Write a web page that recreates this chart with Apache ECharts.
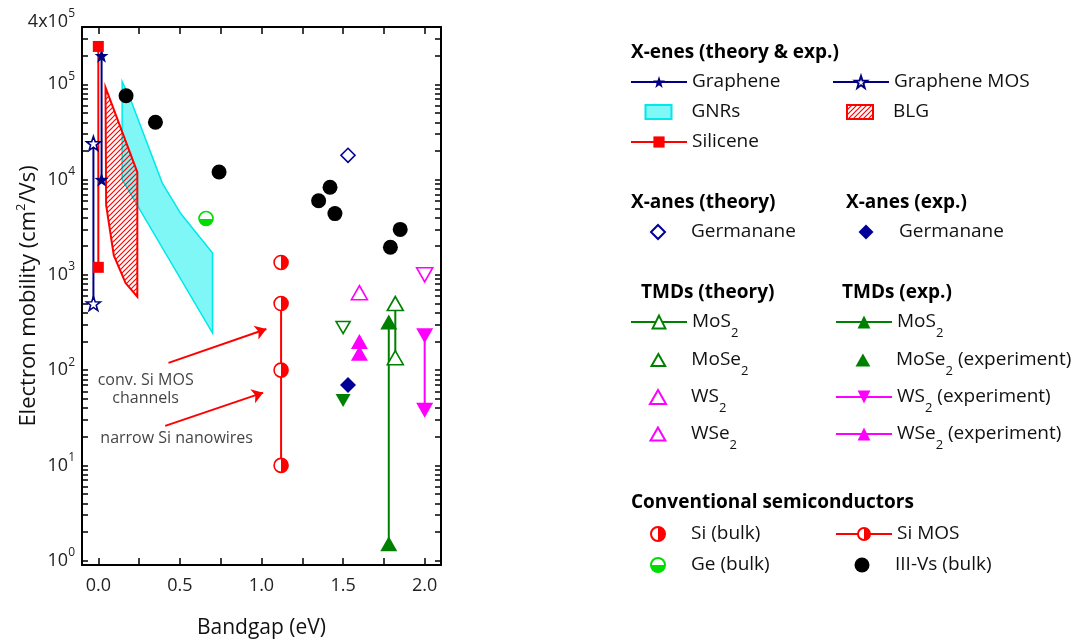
<!DOCTYPE html>
<html>
<head>
<meta charset="utf-8">
<script src="https://cdn.jsdelivr.net/npm/echarts@6.0.0/dist/echarts.min.js"></script>
<style>
html, body { margin: 0; padding: 0; background: #fff; }
#main { width: 1082px; height: 641px; }
</style>
</head>
<body>
<div id="main"></div>
<script>
// [bandgap (eV), electron mobility (cm2/Vs)]
const graphene = [[0.02, 2.0e5], [0.02, 1.0e4]];
const grapheneMOS = [[-0.03, 2.4e4], [-0.03, 500]];
const silicene = [[0.0, 2.5e5], [0.0, 1200]];
const gnrs = [[0.146, 1.07e5], [0.198, 6.9e4], [0.392, 9.2e3], [0.505, 4.4e3], [0.70, 1.7e3], [0.70, 245], [0.146, 1.0e4]];
const blg = [[0.044, 9.3e4], [0.048, 5.4e3], [0.095, 1.6e3], [0.167, 820], [0.239, 590], [0.239, 1.2e4]];
const germananeTheory = [[1.53, 1.8e4]];
const germananeExp = [[1.53, 70]];
const mos2Theory = [[1.82, 500], [1.82, 135]];
const mose2Theory = [[1.50, 280]];
const ws2Theory = [[2.0, 1000]];
const wse2Theory = [[1.60, 650]];
const mos2Exp = [[1.78, 320], [1.78, 1.5]];
const mose2Exp = [[1.50, 48]];
const ws2Exp = [[2.0, 230], [2.0, 38]];
const wse2Exp = [[1.60, 200], [1.60, 150]];
const siBulk = [[1.12, 1350]];
const siMOS = [[1.12, 500], [1.12, 100], [1.12, 10]];
const geBulk = [[0.66, 3900]];
const iiiVs = [[0.17, 7.6e4], [0.35, 4.0e4], [0.74, 1.2e4], [1.35, 6.0e3], [1.42, 8.3e3], [1.45, 4.4e3], [1.79, 1.95e3], [1.85, 3.0e3]];

// annotations
const arrows = [[[0.43, 119], [1.03, 270]], [[0.41, 26], [1.01, 58]]];
const notes = [[0.29, 62, 'conv. Si MOS\nchannels'], [0.48, 19, 'narrow Si nanowires']];

// axis ticks
const xTicks = [0, 0.5, 1.0, 1.5, 2.0];
const xMinorTicks = [0.25, 0.75, 1.25, 1.75];
const yTicks = [1, 10, 100, 1000, 1e4, 1e5];
const yLabels = [1, 10, 100, 1000, 1e4, 1e5, 4e5];
const yMinorTicks = [];
yTicks.forEach(d => { for (let k = 2; k <= 9; k++) if (k * d < 4e5) yMinorTicks.push(k * d); });

const font = '"Open Sans", sans-serif';
const star = 'path://M0,-1L0.235,-0.324L0.951,-0.309L0.38,0.124L0.588,0.809L0,0.4L-0.588,0.809L-0.38,0.124L-0.951,-0.309L-0.235,-0.324Z';
const tri = 'path://M1,0L2,1.75L0,1.75Z';
const diamond = 'path://M1,0L2,1L1,2L0,1Z';

// hatch for BLG
const hatch = document.createElement('canvas');
hatch.width = hatch.height = 5;
const hg = hatch.getContext('2d');
hg.strokeStyle = '#ff0000';
hg.lineWidth = 1.2;
hg.beginPath();
hg.moveTo(0, 5); hg.lineTo(5, 0);
hg.moveTo(-1, 1); hg.lineTo(1, -1);
hg.moveTo(4, 6); hg.lineTo(6, 4);
hg.stroke();

function half(c, dir) { // half filled circle (white / colour)
  const g = dir === 'x' ? [0, 0, 1, 0] : [0, 0, 0, 1];
  return new echarts.graphic.LinearGradient(g[0], g[1], g[2], g[3], [
    { offset: 0, color: '#fff' }, { offset: 0.5, color: '#fff' },
    { offset: 0.5, color: c }, { offset: 1, color: c }
  ]);
}

function lineS(name, data, color, symbol, size, fill, rotate) {
  return {
    name, type: 'line', data, z: 3, symbol, symbolSize: size, symbolRotate: rotate || 0,
    showSymbol: true, symbolKeepAspect: false,
    lineStyle: { color, width: 2 },
    itemStyle: { color: fill || color, borderColor: color, borderWidth: fill ? 1.6 : 0 }
  };
}
function scatterS(name, data, color, symbol, size, fill, rotate) {
  return {
    name, type: 'scatter', data, z: 3, symbol, symbolSize: size, symbolRotate: rotate || 0,
    itemStyle: { color: fill || color, borderColor: color, borderWidth: fill ? 1.6 : 0, opacity: 1 }
  };
}
function polygonS(name, pts, fill, stroke, width) {
  return {
    name, type: 'custom', data: pts, z: 1, silent: true,
    itemStyle: { color: fill, borderColor: stroke, borderWidth: width },
    renderItem: (params, api) => {
      if (params.dataIndex !== 0) return null;
      return {
        type: 'polygon',
        shape: { points: pts.map(p => api.coord(p)) },
        style: { fill, stroke, lineWidth: width }
      };
    }
  };
}

const series = [
  polygonS('GNRs', gnrs, 'rgba(0,240,240,0.5)', '#00e8e8', 1.5),
  polygonS('BLG', blg, { image: hatch, repeat: 'repeat' }, '#ff0000', 2),
  lineS('Graphene', graphene, '#000080', star, 14),
  lineS('Graphene MOS', grapheneMOS, '#000080', star, 14, '#fff'),
  lineS('Silicene', silicene, '#ff0000', 'rect', 11),
  scatterS('Germanane (theory)', germananeTheory, '#000099', diamond, 14, '#fff'),
  scatterS('Germanane (exp.)', germananeExp, '#000099', diamond, 16),
  lineS('MoS2 (theory)', mos2Theory, '#008000', tri, [16, 14], '#fff'),
  scatterS('MoSe2 (theory)', mose2Theory, '#008000', tri, [14, 12], '#fff', 180),
  scatterS('WS2 (theory)', ws2Theory, '#ff00ff', tri, [16, 14], '#fff', 180),
  scatterS('WSe2 (theory)', wse2Theory, '#ff00ff', tri, [16, 14], '#fff'),
  lineS('MoS2 (exp.)', mos2Exp, '#008000', tri, [17, 15]),
  scatterS('MoSe2 (experiment)', mose2Exp, '#008000', tri, [15, 13], null, 180),
  lineS('WS2 (experiment)', ws2Exp, '#ff00ff', tri, [17, 15], null, 180),
  lineS('WSe2 (experiment)', wse2Exp, '#ff00ff', tri, [17, 15]),
  scatterS('Si (bulk)', siBulk, '#ff0000', 'circle', 14, half('#ff0000', 'x')),
  lineS('Si MOS', siMOS, '#ff0000', 'circle', 14, half('#ff0000', 'x')),
  scatterS('Ge (bulk)', geBulk, '#00dd00', 'circle', 14, half('#00dd00', 'y')),
  scatterS('III-Vs (bulk)', iiiVs, '#000', 'circle', 15),
  {
    name: 'notes', type: 'scatter', data: notes, symbolSize: 0, z: 4, silent: true,
    label: {
      show: true, position: 'inside', formatter: p => p.value[2],
      fontSize: 16, lineHeight: 18, color: '#111', fontFamily: font
    },
    markLine: {
      silent: true, animation: false, symbol: ['none', 'arrow'], symbolSize: 11,
      lineStyle: { color: '#ff0000', width: 2, type: 'solid' },
      label: { show: false },
      data: arrows.map(a => [{ coord: a[0] }, { coord: a[1] }])
    }
  }
];

// legend placement: [series name, left of 56px icon slot, row centre y, icon height, drawn icon width (0 = full slot)]
const legendLayout = [
  ['Graphene', 630, 82, 15, 0], ['Graphene MOS', 832, 82, 15, 0],
  ['GNRs', 630, 112, 14, 27], ['BLG', 832, 112, 14, 28],
  ['Silicene', 630, 142, 14, 0],
  ['Germanane (theory)', 630, 232, 14, 16], ['Germanane (exp.)', 838, 232, 15, 15],
  ['MoS2 (theory)', 630, 322, 16, 0], ['MoS2 (exp.)', 835, 322, 16, 0],
  ['MoSe2 (theory)', 630, 360, 12, 15], ['MoSe2 (experiment)', 835, 360, 13, 15],
  ['WS2 (theory)', 630, 397, 14, 18], ['WS2 (experiment)', 835, 397, 16, 0],
  ['WSe2 (theory)', 630, 434, 13, 17], ['WSe2 (experiment)', 835, 434, 16, 0],
  ['Si (bulk)', 630, 534, 14, 16], ['Si MOS', 835, 534, 15, 0],
  ['Ge (bulk)', 630, 565, 14, 16], ['III-Vs (bulk)', 834, 565, 15, 15]
];
const boxIcon = 'path://M0,0h13v7h-13z';
const legend = legendLayout.map(([name, x, y, h, w]) => ({
  data: [name === 'GNRs' || name === 'BLG' ? { name, icon: boxIcon } : name],
  left: w ? x + (56 - w) / 2 : x, top: y - 18, padding: 0, itemWidth: 56, itemHeight: h,
  selectedMode: false, symbolKeepAspect: true,
  formatter: n => n.replace(' (theory)', '').replace(' (exp.)', '').replace('2', '{s|2}'),
  textStyle: {
    fontSize: 19, fontFamily: font, color: '#111', lineHeight: 36,
    rich: { s: { fontSize: 13, lineHeight: 14, padding: [22, 0, 0, 0], fontFamily: font, color: '#111' } }
  }
}));

const headings = [
  ['X-enes (theory & exp.)', 631, 53],
  ['X-anes (theory)', 631, 203], ['X-anes (exp.)', 846, 203],
  ['TMDs (theory)', 641, 293], ['TMDs (exp.)', 842, 293],
  ['Conventional semiconductors', 631, 503]
];

const axisLine = { show: true, onZero: false, lineStyle: { color: '#000', width: 2 } };
const tickStyle = { color: '#000', width: 1.5 };
const xAll = xTicks.concat(xMinorTicks);
const yAll = yTicks.concat(yMinorTicks);
const xBase = { type: 'value', min: -0.1, max: 2.1, splitLine: { show: false } };
const yBase = { type: 'log', logBase: 10, min: 0.9, max: 4e5, splitLine: { show: false } };

const option = {
  animation: false,
  backgroundColor: '#fff',
  textStyle: { fontFamily: font },
  grid: { left: 82, right: 641, top: 27, bottom: 76, outerBoundsMode: 'none' },
  legend,
  graphic: headings.map(([t, x, y]) => ({
    type: 'text', x, y,
    style: { text: t, font: 'bold 19px ' + font, fill: '#000', verticalAlign: 'middle' }
  })),
  xAxis: [
    Object.assign({}, xBase, {
      position: 'bottom', axisLine,
      axisTick: { inside: true, length: 7, lineStyle: tickStyle, customValues: xAll },
      axisLabel: { customValues: xTicks, formatter: v => v.toFixed(1), fontSize: 18, color: '#222', margin: 12 },
      name: 'Bandgap (eV)', nameLocation: 'middle', nameGap: 53, nameMoveOverlap: false,
      nameTextStyle: { fontSize: 21, color: '#111' }
    }),
    Object.assign({}, xBase, {
      position: 'top', axisLine,
      axisTick: { inside: true, length: 7, lineStyle: tickStyle, customValues: xAll },
      axisLabel: { show: false }
    })
  ],
  yAxis: [
    Object.assign({}, yBase, {
      position: 'left', axisLine,
      axisTick: { inside: true, length: 6, lineStyle: tickStyle, customValues: yAll },
      axisLabel: {
        customValues: yLabels, color: '#222', margin: 7,
        formatter: v => v > 2e5 ? '{t|4x10}{tp|5}' : '{m|10}{p|' + Math.round(Math.log10(v)) + '}',
        rich: {
          m: { fontSize: 18, color: '#222' },
          p: { fontSize: 12, color: '#222', padding: [0, 0, 16, 0] },
          t: { fontSize: 18, color: '#222', padding: [0, 0, 10, 0] },
          tp: { fontSize: 12, color: '#222', padding: [0, 0, 27, 0] }
        }
      },
      name: 'Electron mobility (cm{sup|2}/Vs)', nameLocation: 'middle', nameGap: 40, nameMoveOverlap: false,
      nameTextStyle: { fontSize: 22, color: '#111', rich: { sup: { fontSize: 13, color: '#111', padding: [0, 0, 14, 0] } } }
    }),
    Object.assign({}, yBase, {
      position: 'right', axisLine,
      axisTick: { inside: true, length: 6, lineStyle: tickStyle, customValues: yAll },
      axisLabel: { show: false }
    })
  ],
  series
};

const chart = echarts.init(document.getElementById('main'));
chart.setOption(option);
</script>
</body>
</html>
